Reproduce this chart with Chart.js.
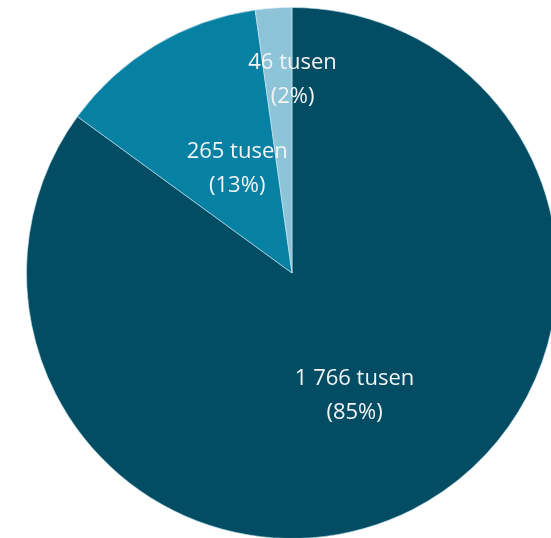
<!DOCTYPE html>
<html>
<head>
<meta charset="utf-8">
<script src="https://cdn.jsdelivr.net/npm/chart.js@4"></script>
<style>
  html, body { margin: 0; padding: 0; width: 551px; height: 538px; overflow: hidden; background: #ffffff; }
  #wrap { position: absolute; left: 26px; top: 7px; width: 532px; height: 532px; }
</style>
</head>
<body>
<div id="wrap"><canvas id="c"></canvas></div>
<script>
const categories = ["A", "B", "C"];
const values = [1766, 265, 46];
const percents = [85, 13, 2];
const valueLabels = ["1 766 tusen", "265 tusen", "46 tusen"];
const colors = ["#034d64", "#0680a3", "#8ec4d7"];
const labelRadius = [0.52, 0.46, 0.73];
const labelShiftX = [0, 8, 14];

const labelPlugin = {
  id: 'sliceLabels',
  afterDatasetsDraw(chart) {
    const ctx = chart.ctx;
    const meta = chart.getDatasetMeta(0);
    ctx.save();
    ctx.fillStyle = '#f2f4f5';
    ctx.font = '22px "Open Sans", "Noto Sans", sans-serif';
    ctx.textAlign = 'center';
    ctx.textBaseline = 'middle';
    meta.data.forEach((arc, i) => {
      const p = arc.getProps(['x', 'y', 'startAngle', 'endAngle', 'outerRadius'], true);
      const mid = (p.startAngle + p.endAngle) / 2;
      const r = p.outerRadius * labelRadius[i];
      const x = p.x + Math.cos(mid) * r + labelShiftX[i];
      const y = p.y + Math.sin(mid) * r;
      ctx.fillText(valueLabels[i], x, y - 17);
      ctx.fillText('(' + percents[i] + '%)', x, y + 17);
    });
    ctx.restore();
  }
};

new Chart(document.getElementById('c'), {
  type: 'pie',
  data: {
    labels: categories,
    datasets: [{
      data: values,
      backgroundColor: colors,
      borderColor: 'rgba(200,230,240,0.6)',
      borderWidth: 1
    }]
  },
  options: {
    responsive: true,
    maintainAspectRatio: false,
    animation: false,
    layout: { padding: 0 },
    plugins: { legend: { display: false }, tooltip: { enabled: false } }
  },
  plugins: [labelPlugin]
});
</script>
</body>
</html>
